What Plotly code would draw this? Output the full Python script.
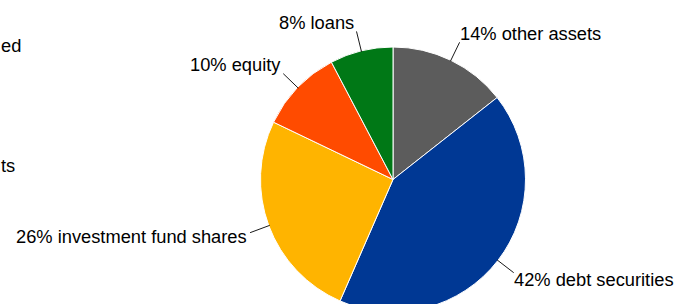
import math
import plotly.graph_objects as go

# ---- data ----
categories = ["other assets", "debt securities", "investment fund shares", "equity", "loans"]
shares = [14.4, 42.2, 25.6, 10.2, 7.7]
colors = ["#5C5C5C", "#003894", "#FFB400", "#FF4B00", "#007816"]
cut_labels = ["ed", "ts"]  # clipped labels of the neighbouring panel

# ---- layout geometry (pixels) ----
W, H = 675, 330
CX, CY, R = 393, 179.5, 132.5
LEAD = 20
FONT = dict(family="Liberation Sans, Arial, sans-serif", size=18.3, color="#000000")


def px(x):
    return x / W


def py(y):
    return 1 - y / H


fig = go.Figure()
fig.add_trace(go.Pie(
    labels=categories,
    values=shares,
    sort=False,
    direction="clockwise",
    rotation=0,
    marker=dict(colors=colors, line=dict(color="#FFFFFF", width=1)),
    textinfo="none",
    hoverinfo="label+percent",
    showlegend=False,
    domain=dict(x=[px(CX - R), px(CX + R)], y=[py(CY + R), py(CY - R)]),
))

total = sum(shares)
cum = 0
shapes = []
annotations = []
for cat, v in zip(categories, shares):
    mid = (cum + v / 2) / total * 2 * math.pi
    cum += v
    s, c = math.sin(mid), math.cos(mid)
    x0, y0 = CX + (R - 1) * s, CY - (R - 1) * c
    x1, y1 = CX + (R + LEAD) * s, CY - (R + LEAD) * c
    shapes.append(dict(type="line", xref="paper", yref="paper",
                       x0=px(x0), y0=py(y0), x1=px(x1), y1=py(y1),
                       line=dict(color="#1A1A1A", width=1)))
    right = s > 0
    tx = x1 - 1.5 if right else x1 - 0.7
    ty = y1 + (-8 if c >= 0 else -12 * c) - 0.7
    pct = round(v / total * 100)
    annotations.append(dict(text=f"{pct}% {cat}", xref="paper", yref="paper",
                            x=px(tx), y=py(ty), xanchor="left" if right else "right",
                            yanchor="middle", showarrow=False, font=FONT))

for txt, ey in zip(cut_labels, [45, 165]):
    annotations.append(dict(text=txt, xref="paper", yref="paper", x=0, y=py(ey),
                            xanchor="left", yanchor="middle", showarrow=False, font=FONT,
                            borderpad=0))

fig.update_layout(
    width=W, height=H,
    margin=dict(l=0, r=0, t=0, b=0),
    paper_bgcolor="#FFFFFF", plot_bgcolor="#FFFFFF",
    shapes=shapes, annotations=annotations,
)

fig.write_html(
    "out.html",
    config={"displayModeBar": False},
    post_script="document.body.style.margin='0';document.body.style.overflow='hidden';"
                "document.documentElement.style.overflow='hidden';",
)
